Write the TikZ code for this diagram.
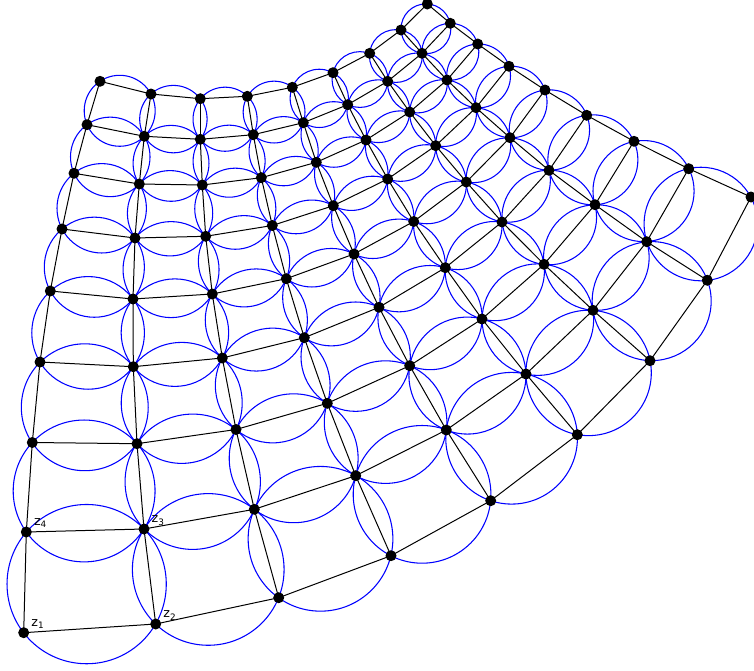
\documentclass[tikz,border=0pt]{standalone}
\usepackage{fontspec}
\setmainfont{DejaVu Sans}
% circumcentre of three points (x1,y1),(x2,y2),(x3,y3) -> \qux,\quy
\newcommand\qcenter[6]{%
 \pgfmathsetmacro\qbx{(#3-#1)/100}\pgfmathsetmacro\qby{(#4-#2)/100}%
 \pgfmathsetmacro\qcx{(#5-#1)/100}\pgfmathsetmacro\qcy{(#6-#2)/100}%
 \pgfmathsetmacro\qdd{2*(\qbx*\qcy-\qby*\qcx)}%
 \pgfmathsetmacro\qbb{\qbx*\qbx+\qby*\qby}%
 \pgfmathsetmacro\qcc{\qcx*\qcx+\qcy*\qcy}%
 \pgfmathsetmacro\qux{#1+100*(\qcy*\qbb-\qby*\qcc)/\qdd}%
 \pgfmathsetmacro\quy{#2+100*(\qbx*\qcc-\qcx*\qbb)/\qdd}}
\newcommand\qdist[2]{%
 \pgfmathsetmacro\qdst{100*sqrt(((#1-\qmx)/100)^2+((#2-\qmy)/100)^2)}}
\begin{document}
\begin{tikzpicture}[x=0.75pt,y=-0.75pt,
  edge/.style={black,line width=0.75pt},
  ring/.style={blue,line width=0.8pt},
  dot/.style={circle,fill=black,inner sep=0pt,minimum size=8.25pt},
  lab/.style={anchor=base west,inner sep=0pt,font=\fontsize{9.5}{11}\selectfont,xshift=5.6pt,yshift=4.8pt}]
\useasboundingbox (0,0) rectangle (754,671);
\foreach \row [count=\j from 0] in {
 {23.7/632.7,155.7/624,278.7/597.7,391/555.7,490.7/500.7,577.3/434.7,650/360.7,707.3/280.3,751/197},
 {26.3/532,144/529,254.3/509.3,355.7/475.7,446.3/430,526/374,593/310.3,646.7/241.7,688.7/168.7},
 {32.3/442.5,137/443.7,236/429.5,327.3/403.3,409.7/365.7,482/319,544/264.3,595/204.7,634/141.3},
 {40/362,133.3/366.7,222.3/358,304.3/337.7,379/307.3,445.3/267.7,502/222,549/170.3,586.7/115.3},
 {50.3/291,133/299,212.3/294,286.3/278.7,354/254,413.7/221.5,466.3/182,510/137.7,545/90},
 {62/229,135/238,205.7/236.3,272.3/225.5,333.3/205.7,387.7/179,435.7/145.7,476/107.7,509/66.3},
 {74/173.3,139.3/184,202.3/185,261.3/177.7,316.3/162.3,366/140,409.7/112,447/80,477.7/44},
 {87/124.7,144.3/136.3,200.3/139.3,253.3/134.7,303.3/122.7,347.7/104.7,387.7/81.3,422/53.3,450.3/23.3},
 {100/81.3,151/94,200.3/98.7,247.3/96.3,292.3/87.3,333/72.7,369.7/53.3,401/30,427.3/4}}{
  \foreach \px/\py [count=\i from 0] in \row {
    \pgfmathtruncatemacro\k{9*\j+\i}
    \expandafter\xdef\csname PX\k\endcsname{\px}
    \expandafter\xdef\csname PY\k\endcsname{\py}
    \coordinate (p-\i-\j) at (\px,\py);
  }}
% circles through the four corners of each quad
\foreach \j in {0,...,7}{\foreach \i in {0,...,7}{
  \pgfmathtruncatemacro\ka{9*\j+\i}
  \pgfmathtruncatemacro\kb{\ka+1}
  \pgfmathtruncatemacro\kc{\ka+10}
  \pgfmathtruncatemacro\kd{\ka+9}
  \edef\qAx{\csname PX\ka\endcsname}\edef\qAy{\csname PY\ka\endcsname}
  \edef\qBx{\csname PX\kb\endcsname}\edef\qBy{\csname PY\kb\endcsname}
  \edef\qCx{\csname PX\kc\endcsname}\edef\qCy{\csname PY\kc\endcsname}
  \edef\qDx{\csname PX\kd\endcsname}\edef\qDy{\csname PY\kd\endcsname}
  \qcenter{\qAx}{\qAy}{\qBx}{\qBy}{\qCx}{\qCy}\let\qxa\qux\let\qya\quy
  \qcenter{\qAx}{\qAy}{\qCx}{\qCy}{\qDx}{\qDy}\let\qxb\qux\let\qyb\quy
  \qcenter{\qAx}{\qAy}{\qBx}{\qBy}{\qDx}{\qDy}\let\qxc\qux\let\qyc\quy
  \qcenter{\qBx}{\qBy}{\qCx}{\qCy}{\qDx}{\qDy}\let\qxd\qux\let\qyd\quy
  \pgfmathsetmacro\qmx{(\qxa+\qxb+\qxc+\qxd)/4}
  \pgfmathsetmacro\qmy{(\qya+\qyb+\qyc+\qyd)/4}
  \qdist{\qAx}{\qAy}\let\qra\qdst
  \qdist{\qBx}{\qBy}\let\qrb\qdst
  \qdist{\qCx}{\qCy}\let\qrc\qdst
  \qdist{\qDx}{\qDy}\let\qrd\qdst
  \pgfmathsetmacro\qrad{0.75*(\qra+\qrb+\qrc+\qrd)/4}
  \draw[ring] (\qmx,\qmy) circle[radius=\qrad pt];
}}
% edges
\foreach \j in {0,...,8}{\foreach \i in {0,...,7}{
  \pgfmathtruncatemacro\ii{\i+1}
  \draw[edge] (p-\i-\j) -- (p-\ii-\j);
  \draw[edge] (p-\j-\i) -- (p-\j-\ii);
}}
% vertices
\foreach \j in {0,...,8}{\foreach \i in {0,...,8}{
  \node[dot] (d-\i-\j) at (p-\i-\j) {};
}}
\node[lab] (z1) at (p-0-0) {z\textsubscript{1}};
\node[lab] (z2) at (p-1-0) {z\textsubscript{2}};
\node[lab] (z3) at (p-1-1) {z\textsubscript{3}};
\node[lab] (z4) at (p-0-1) {z\textsubscript{4}};
\end{tikzpicture}
\end{document}
